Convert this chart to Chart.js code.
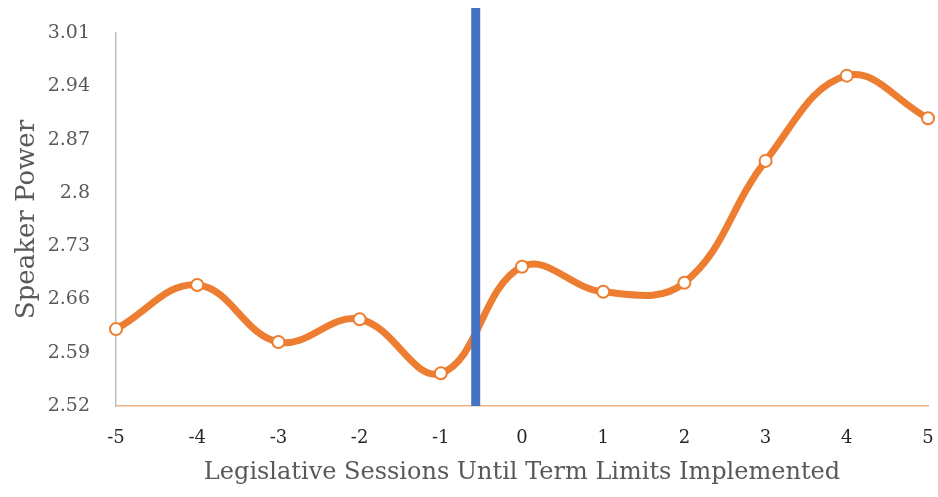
<!DOCTYPE html>
<html>
<head>
<meta charset="utf-8">
<script src="https://cdn.jsdelivr.net/npm/chart.js@4"></script>
<style>
  html, body { margin: 0; padding: 0; background: #fff; }
  #wrap { width: 938px; height: 497px; }
</style>
</head>
<body>
<div id="wrap"><canvas id="speakerChart" width="938" height="497"></canvas></div>
<script>
// sessions relative to term limits, and speaker power
const sessions = [-5, -4, -3, -2, -1, 0, 1, 2, 3, 4, 5];
const speakerPower = [2.621, 2.679, 2.604, 2.634, 2.563, 2.703, 2.670, 2.682, 2.842, 2.954, 2.898];
const yTicks = [2.52, 2.59, 2.66, 2.73, 2.8, 2.87, 2.94, 3.01];
// the "term limits" marker line
const markerX = -0.57;
const markerY = [2.52, 3.043];

const serif = "'DejaVu Serif', 'Liberation Serif', serif";

const ctx = document.getElementById("speakerChart").getContext("2d");

new Chart(ctx, {
    type: "line",
    data: {
        datasets: [
            {
                label: "Term limits",
                data: markerY.map(y => ({ x: markerX, y: y })),
                borderColor: "#4472C4",
                borderWidth: 9,
                borderCapStyle: "butt",
                pointRadius: 0,
                clip: false,
                order: 1
            },
            {
                label: "Speaker Power",
                data: sessions.map((s, i) => ({ x: s, y: speakerPower[i] })),
                borderColor: "#ED7D31",
                borderWidth: 7,
                tension: 0.4,
                pointRadius: 6,
                pointBorderWidth: 2,
                pointBackgroundColor: "#ffffff",
                pointBorderColor: "#ED7D31",
                clip: false,
                order: 2
            }
        ]
    },
    options: {
        responsive: false,
        animation: false,
        layout: { padding: { left: 12, right: 0, top: 33, bottom: 10 } },
        plugins: {
            legend: { display: false },
            tooltip: { enabled: false }
        },
        scales: {
            x: {
                type: "linear",
                min: -5,
                max: 5,
                afterFit: axis => {
                    axis.height = 81;
                    axis.paddingRight = 10;
                },
                grid: { display: false },
                border: { display: true, color: "#F4B183", width: 1.5 },
                ticks: {
                    stepSize: 1,
                    padding: 14,
                    color: "#262626",
                    font: { family: serif, size: 18 }
                },
                title: {
                    display: true,
                    text: "Legislative Sessions Until Term Limits Implemented",
                    color: "#595959",
                    font: { family: serif, size: 24 },
                    padding: { top: 0, bottom: 0 }
                }
            },
            y: {
                min: 2.52,
                max: 3.01,
                afterFit: axis => { axis.width = 104; },
                grid: { display: false },
                border: { display: true, color: "#BFBFBF", width: 1.5 },
                afterBuildTicks: axis => {
                    axis.ticks = yTicks.map(v => ({ value: v }));
                },
                ticks: {
                    padding: 18,
                    color: "#595959",
                    font: { family: serif, size: 19 },
                    callback: v => String(v)
                },
                title: {
                    display: true,
                    text: "Speaker Power",
                    color: "#595959",
                    font: { family: serif, size: 26 },
                    padding: { top: 0, bottom: 4 }
                }
            }
        }
    }
});
</script>
</body>
</html>
